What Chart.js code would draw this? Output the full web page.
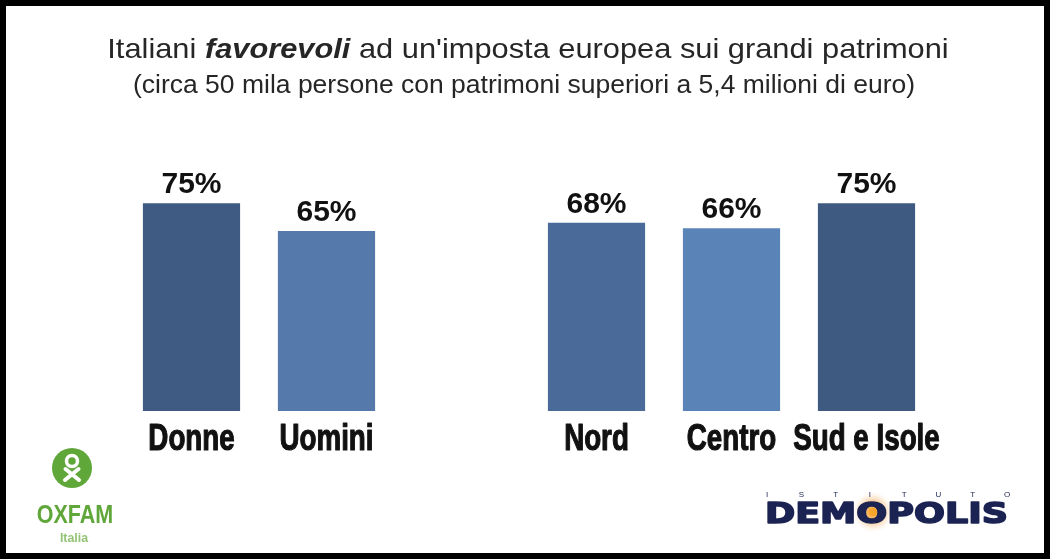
<!DOCTYPE html>
<html>
<head>
<meta charset="utf-8">
<script src="https://cdn.jsdelivr.net/npm/chart.js@4.4.1/dist/chart.umd.min.js"></script>
<style>
  html, body { margin: 0; padding: 0; background: #fff; }
  #wrap { position: relative; width: 1050px; height: 559px; overflow: hidden; }
  #wrap canvas { position: absolute; left: 0; top: 0; }
  #frame { position: absolute; left: 0; top: 0; width: 1050px; height: 559px;
           box-sizing: border-box; border: 6px solid #000; pointer-events: none; }
</style>
</head>
<body>
<div id="wrap">
  <canvas id="js-chartjs-favorevoli" width="1050" height="559"></canvas>
  <div id="frame"></div>
</div>
<script>
// data
const categories = ["Donne", "Uomini", "", "Nord", "Centro", "Sud e Isole"];
const favorevoli = [75, 65, null, 68, 66, 75];
const barColors = ["#3f5b83", "#5479aa", "#ffffff", "#4a6a99", "#5a84b8", "#3f5a80"];

const titleParts = [
  { text: "Italiani ", style: "" },
  { text: "favorevoli", style: "italic bold " },
  { text: " ad un'imposta europea sui grandi patrimoni", style: "" }
];
const subtitle = "(circa 50 mila persone con patrimoni superiori a 5,4 milioni di euro)";

const SANS = "'Liberation Sans', Arial, sans-serif";

// draws text squeezed or stretched horizontally around (x, y)
function wideText(ctx, text, x, y, sx, stroke) {
  ctx.save();
  ctx.translate(x, y);
  ctx.scale(sx, 1);
  if (stroke) {
    ctx.strokeStyle = ctx.fillStyle;
    ctx.lineWidth = stroke;
    ctx.lineJoin = "round";
    ctx.strokeText(text, 0, 0);
  }
  ctx.fillText(text, 0, 0);
  ctx.restore();
}

// title, category labels, value labels and logos
const decorations = {
  id: "decorations",
  afterDatasetsDraw(chart) {
    const ctx = chart.ctx;
    const xScale = chart.scales.x;
    ctx.save();
    ctx.fillStyle = "#111";
    ctx.textAlign = "center";
    ctx.textBaseline = "alphabetic";
    ctx.font = "bold 30px " + SANS;
    chart.getDatasetMeta(0).data.forEach((bar, i) => {
      const v = favorevoli[i];
      if (v === null) return;
      ctx.fillText(v + "%", bar.x, bar.y - 10);
    });
    // condensed category labels under the bars
    ctx.font = "bold 37px " + SANS;
    categories.forEach((c, i) => {
      if (!c) return;
      wideText(ctx, c, xScale.getPixelForValue(i), chart.chartArea.bottom + 39, 0.75, 1.2);
    });
    ctx.restore();
  },
  afterDraw(chart) {
    const ctx = chart.ctx;
    ctx.save();

    // title with the italic bold word
    ctx.fillStyle = "#262626";
    ctx.textBaseline = "alphabetic";
    ctx.textAlign = "left";
    const sx = 1.1;
    let total = 0;
    titleParts.forEach((p) => {
      ctx.font = p.style + "28px " + SANS;
      p.w = ctx.measureText(p.text).width * sx;
      total += p.w;
    });
    let x = 528 - total / 2;
    titleParts.forEach((p) => {
      ctx.font = p.style + "28px " + SANS;
      wideText(ctx, p.text, x, 58, sx);
      x += p.w;
    });
    ctx.textAlign = "center";
    ctx.font = "25px " + SANS;
    wideText(ctx, subtitle, 524, 93, 1.06);

    // OXFAM Italia logo
    const green = "#60a73a";
    ctx.fillStyle = green;
    ctx.beginPath();
    ctx.arc(72, 468, 20, 0, Math.PI * 2);
    ctx.fill();
    ctx.strokeStyle = "#fff";
    ctx.lineWidth = 3.5;
    ctx.beginPath();
    ctx.arc(72, 461, 5.5, 0, Math.PI * 2);
    ctx.stroke();
    ctx.lineWidth = 4;
    ctx.lineCap = "round";
    ctx.beginPath();
    ctx.moveTo(65.5, 469); ctx.lineTo(79, 480);
    ctx.moveTo(78.5, 469); ctx.lineTo(65, 480);
    ctx.stroke();
    ctx.fillStyle = green;
    ctx.font = "bold 25px " + SANS;
    wideText(ctx, "OXFAM", 75, 523, 0.86);
    ctx.fillStyle = "#93c476";
    ctx.font = "bold 13px " + SANS;
    wideText(ctx, "Italia", 74, 542, 0.95);

    // DEMOPOLIS logo
    const navy = "#1b2352";
    const glow = ctx.createRadialGradient(873, 512, 1, 873, 512, 22);
    glow.addColorStop(0, "rgba(250,160,30,1)");
    glow.addColorStop(0.45, "rgba(240,175,100,0.65)");
    glow.addColorStop(1, "rgba(255,255,255,0)");
    ctx.fillStyle = glow;
    ctx.fillRect(849, 488, 48, 48);
    ctx.fillStyle = navy;
    ctx.font = "8px " + SANS;
    "ISTITUTO".split("").forEach((c, i) => ctx.fillText(c, 767 + i * 34.3, 497));
    ctx.font = "bold 29px 'DejaVu Sans', sans-serif";
    ctx.textAlign = "left";
    const word = "DEMOPOLIS";
    const natural = ctx.measureText(word).width;
    ctx.save();
    ctx.translate(765, 523);
    ctx.scale(243 / natural, 1);
    ctx.strokeStyle = navy;
    ctx.lineWidth = 1.6;
    ctx.lineJoin = "round";
    ctx.strokeText(word, 0, 0);
    ctx.fillText(word, 0, 0);
    ctx.restore();
    // orange core of the O
    ctx.fillStyle = "#f6a52a";
    ctx.beginPath();
    ctx.arc(873, 512, 4, 0, Math.PI * 2);
    ctx.fill();

    ctx.restore();
  }
};

new Chart(document.getElementById("js-chartjs-favorevoli"), {
  type: "bar",
  data: {
    labels: categories,
    datasets: [{
      data: favorevoli,
      backgroundColor: barColors,
      borderWidth: 0,
      barPercentage: 0.72,
      categoryPercentage: 1
    }]
  },
  options: {
    responsive: false,
    animation: false,
    layout: { padding: { top: 134, left: 124, right: 116, bottom: 148 } },
    plugins: { legend: { display: false }, tooltip: { enabled: false } },
    scales: {
      x: {
        grid: { display: false, drawTicks: false },
        border: { display: false },
        ticks: { display: false }
      },
      y: { display: false, min: 0, max: 100 }
    }
  },
  plugins: [decorations]
});
</script>
</body>
</html>
